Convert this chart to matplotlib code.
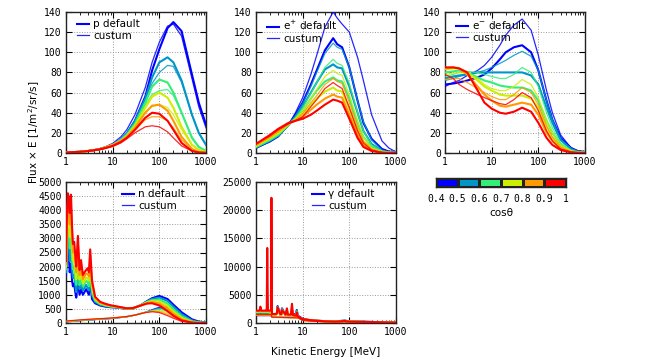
import matplotlib
matplotlib.use('Agg')
import matplotlib.pyplot as plt
from matplotlib.colors import ListedColormap
import numpy as np

# colours of the cos(theta) bins 0.4-0.5 ... 0.9-1
colors = ['#0000ff', '#0096c8', '#33ee77', '#ccee00', '#ff9900', '#ff0000']
cos_edges = [0.4, 0.5, 0.6, 0.7, 0.8, 0.9, 1.0]
cos_labels = ['0.4', '0.5', '0.6', '0.7', '0.8', '0.9', '1']

# ---- protons ----
p_E = [1, 2, 3, 5, 7, 10, 15, 20, 30, 50, 70, 100, 150, 200, 300, 500, 700, 1000]
p_default = [
    [0.5, 1.2, 2.0, 3.5, 5.5, 8, 13, 19, 32, 56, 82, 103, 124, 130, 121, 78, 50, 28],
    [0.5, 1.2, 2.0, 3.5, 5.5, 8, 13, 19, 31, 54, 75, 90, 95, 90, 72, 38, 20, 8],
    [0.5, 1.2, 2.0, 3.5, 5.5, 8, 13, 18, 29, 50, 66, 73, 70, 60, 40, 15, 6, 2],
    [0.5, 1.2, 2.0, 3.5, 5.5, 8, 12, 17, 27, 45, 56, 60, 55, 45, 26, 8, 3, 1],
    [0.5, 1.2, 2.0, 3.5, 5.5, 8, 12, 16, 25, 40, 47, 48, 42, 32, 16, 4, 1, 0.5],
    [0.5, 1.2, 2.0, 3.5, 5.0, 7, 11, 15, 23, 35, 40, 39, 32, 23, 10, 2, 0.5, 0.2],
]
p_custom = [
    [0.6, 1.4, 2.3, 4.0, 6.2, 9.5, 16, 23, 38, 65, 90, 110, 126, 128, 116, 74, 46, 25],
    [0.5, 1.3, 2.1, 3.7, 5.7, 8.5, 14, 20, 32, 54, 69, 80, 87, 86, 70, 38, 20, 8],
    [0.5, 1.2, 2.0, 3.5, 5.5, 8, 13, 18, 29, 48, 58, 62, 63, 57, 40, 16, 6, 2],
    [0.5, 1.2, 2.0, 3.5, 5.2, 7.5, 12, 17, 26, 41, 46, 48, 45, 38, 23, 8, 3, 1],
    [0.5, 1.1, 1.9, 3.3, 5.0, 7, 11, 15, 23, 33, 36, 36, 32, 25, 13, 4, 1, 0.5],
    [0.4, 1.0, 1.7, 3.0, 4.5, 6.5, 10, 14, 20, 26, 27, 26, 21, 15, 7, 2, 0.5, 0.2],
]

# ---- positrons ----
ep_E = [1, 2, 3, 5, 7, 10, 15, 20, 30, 45, 55, 70, 100, 150, 200, 300, 500, 700, 1000]
ep_default = [
    [5, 12, 17, 28, 38, 50, 68, 82, 102, 114, 108, 105, 85, 52, 30, 14, 4, 1.5, 0.5],
    [5.5, 12.5, 17.5, 28, 36, 46, 60, 70, 83, 88, 85, 84, 66, 40, 22, 9, 2, 0.8, 0.3],
    [6, 13, 18, 28, 34, 42, 54, 62, 71, 75, 72, 71, 54, 30, 16, 6, 1.5, 0.5, 0.2],
    [7, 15, 20, 29, 33, 39, 48, 54, 61, 65, 62, 61, 44, 23, 11, 4, 1, 0.3, 0.1],
    [8, 16, 22, 29, 32, 36, 43, 48, 54, 58, 56, 55, 38, 18, 8, 2.5, 0.5, 0.2, 0.1],
    [9, 18, 24, 30, 32, 34, 38, 42, 48, 53, 52, 50, 34, 15, 6, 2, 0.3, 0.1, 0.1],
]
ep_custom = [
    [5, 11, 16, 28, 40, 55, 78, 97, 125, 140, 134, 128, 120, 95, 72, 38, 12, 5, 1],
    [5.5, 12, 17, 28, 37, 49, 66, 80, 99, 109, 105, 103, 85, 52, 31, 13, 3, 1, 0.4],
    [6, 13, 18, 28, 35, 45, 59, 70, 85, 93, 89, 87, 69, 40, 22, 8, 2, 0.6, 0.2],
    [7, 14, 19, 28, 34, 42, 54, 63, 76, 82, 79, 77, 58, 32, 16, 5, 1.2, 0.4, 0.1],
    [8, 16, 21, 29, 33, 39, 50, 57, 68, 74, 71, 69, 50, 26, 12, 4, 0.8, 0.2, 0.1],
    [9, 17, 23, 29, 32, 36, 46, 53, 64, 70, 67, 64, 45, 22, 10, 3, 0.5, 0.1, 0.1],
]

# ---- electrons ----
em_E = [1, 1.5, 2, 3, 5, 7, 10, 15, 20, 30, 45, 70, 100, 150, 200, 300, 500, 700, 1000]
em_default = [
    [68, 69, 70, 72, 75, 78, 84, 93, 100, 105, 107, 100, 82, 52, 33, 15, 5, 2, 1],
    [74, 76, 77, 78, 80, 80, 80, 80, 80, 80, 80, 77, 68, 45, 30, 13, 4, 1.5, 0.8],
    [80, 81, 82, 80, 75, 72, 70, 67, 66, 65, 65, 62, 52, 32, 20, 8, 2, 0.8, 0.4],
    [83, 84, 84, 80, 72, 66, 62, 58, 57, 57, 57, 54, 45, 26, 15, 6, 1.5, 0.5, 0.2],
    [84, 85, 84, 78, 66, 58, 52, 47, 46, 48, 50, 48, 38, 20, 12, 4, 1, 0.3, 0.1],
    [85, 85, 84, 80, 62, 50, 44, 40, 39, 41, 45, 41, 30, 15, 8, 3, 0.5, 0.2, 0.1],
]
em_custom = [
    [66, 70, 72, 77, 82, 87, 95, 107, 117, 127, 133, 122, 97, 62, 40, 18, 5, 2, 1],
    [72, 74, 76, 78, 80, 82, 85, 89, 92, 97, 101, 96, 82, 52, 33, 14, 4, 1.5, 0.8],
    [76, 78, 80, 81, 80, 78, 76, 74, 74, 78, 85, 80, 66, 40, 25, 10, 3, 1, 0.5],
    [78, 79, 80, 79, 74, 68, 64, 62, 62, 66, 73, 68, 55, 32, 20, 8, 2, 0.7, 0.3],
    [73, 74, 74, 70, 64, 60, 56, 53, 53, 58, 65, 60, 48, 27, 16, 6, 1.5, 0.5, 0.2],
    [78, 74, 68, 63, 58, 55, 52, 49, 48, 53, 60, 55, 42, 22, 12, 4, 1, 0.3, 0.1],
]

# ---- neutrons ----
n_E = [1.0, 1.05, 1.1, 1.15, 1.2, 1.28, 1.35, 1.41, 1.5, 1.58, 1.66, 1.8, 1.95, 2.1, 2.3,
       2.5, 2.7, 2.9, 3.1, 3.3, 3.6, 4.2, 5.4, 7, 9, 14, 20, 27, 40, 55, 70, 100, 150, 200,
       300, 500, 700, 1000]
n_default = [
    [1700, 2500, 2800, 2400, 1800, 2100, 1500, 1300, 1400, 1100, 900, 1500, 1000, 1200, 1000,
     1100, 1200, 1100, 1000, 1600, 850, 700, 620, 580, 560, 540, 500, 510, 630, 780, 880, 960,
     850, 650, 380, 130, 50, 15],
    [1800, 2800, 3150, 2800, 2200, 2600, 1900, 1600, 1700, 1350, 1100, 1800, 1200, 1400, 1150,
     1250, 1350, 1250, 1150, 1800, 1000, 750, 650, 600, 570, 545, 505, 515, 630, 770, 850, 900,
     780, 580, 310, 90, 30, 8],
    [1900, 3050, 3500, 3200, 2650, 3100, 2250, 1900, 2000, 1600, 1350, 2150, 1350, 1600, 1300,
     1400, 1500, 1450, 1300, 2000, 1100, 800, 670, 620, 590, 550, 510, 518, 630, 750, 810, 830,
     690, 490, 240, 60, 18, 4],
    [2000, 3350, 3900, 3600, 3050, 3550, 2650, 2200, 2300, 1900, 1550, 2450, 1550, 1800, 1400,
     1500, 1600, 1600, 1500, 2200, 1250, 850, 700, 640, 600, 560, 512, 522, 625, 730, 780, 760,
     600, 410, 180, 40, 10, 2],
    [2100, 3600, 4250, 4000, 3500, 4050, 3000, 2500, 2600, 2150, 1800, 2750, 1700, 2000, 1550,
     1650, 1750, 1750, 1650, 2400, 1400, 900, 720, 660, 615, 565, 515, 526, 622, 710, 740, 690,
     510, 330, 130, 25, 6, 1.5],
    [2200, 3900, 4600, 4400, 3900, 4550, 3400, 2800, 2880, 2400, 2000, 3090, 1880, 2230, 1700,
     1800, 1880, 1940, 1800, 2610, 1520, 930, 750, 680, 630, 570, 520, 530, 620, 690, 700, 620,
     420, 260, 90, 15, 3, 1],
]
n_Ec = [1, 2, 3, 5, 10, 20, 30, 50, 70, 100, 150, 200, 300, 500, 700, 1000]
n_custom = [
    [40, 80, 100, 130, 160, 220, 280, 380, 470, 560, 570, 480, 300, 110, 40, 10],
    [45, 85, 105, 135, 165, 222, 280, 378, 455, 520, 500, 400, 230, 75, 25, 6],
    [50, 90, 110, 138, 170, 225, 280, 375, 440, 480, 430, 320, 170, 50, 14, 3],
    [55, 95, 117, 142, 173, 227, 280, 373, 425, 440, 370, 260, 120, 30, 8, 2],
    [62, 102, 123, 146, 177, 228, 280, 372, 410, 405, 310, 210, 85, 18, 4, 1],
    [70, 110, 130, 150, 180, 230, 280, 370, 400, 370, 260, 170, 60, 10, 2, 0.5],
]

# ---- gammas ----
g_E = [1, 1.2, 1.24, 1.3, 1.6, 1.7, 1.74, 1.8, 2.05, 2.1, 2.14, 2.2, 2.6, 2.8, 2.9, 3.3,
       3.5, 3.6, 4.3, 4.6, 4.8, 5.6, 5.9, 6.2, 7.2, 7.5, 7.8, 9, 10, 15, 20, 30, 50, 80,
       100, 200, 500, 1000]
g_default = [
    [1700, 1700, 2300, 1700, 1700, 1700, 2400, 1700, 1600, 1600, 2400, 1500, 1500, 1600, 3000,
     1500, 1500, 2600, 1400, 2000, 1400, 1400, 2000, 1600, 1500, 2300, 1300, 1000, 700, 470,
     400, 330, 290, 420, 300, 220, 140, 90],
    [1800, 1800, 2400, 1800, 1800, 1800, 2500, 1800, 1700, 1700, 2500, 1500, 1500, 1600, 2900,
     1500, 1500, 2500, 1400, 2000, 1400, 1400, 2100, 1500, 1400, 2200, 1200, 900, 680, 460,
     390, 320, 280, 400, 280, 210, 130, 80],
    [1900, 1900, 2500, 1900, 1900, 1900, 2600, 1900, 1800, 1800, 2600, 1500, 1500, 1600, 2800,
     1500, 1500, 2400, 1400, 2100, 1400, 1400, 2200, 1400, 1300, 2000, 1100, 850, 650, 460,
     380, 310, 270, 380, 270, 200, 120, 75],
    [2000, 2000, 2600, 2000, 2000, 2000, 2900, 2000, 1900, 1900, 2900, 1500, 1500, 1600, 2700,
     1500, 1500, 2300, 1400, 2200, 1400, 1400, 2400, 1300, 1200, 1900, 1100, 850, 650, 470,
     380, 300, 260, 360, 260, 190, 120, 75],
    [2100, 2100, 2700, 2100, 2100, 2100, 3500, 2100, 2000, 2000, 3600, 1500, 1500, 1600, 2600,
     1500, 1500, 2200, 1400, 2400, 1400, 1400, 2800, 1300, 1200, 1800, 1100, 850, 650, 480,
     390, 300, 250, 340, 250, 190, 120, 75],
    [2200, 2200, 2900, 2200, 2200, 2200, 13300, 2200, 2200, 2200, 22200, 1600, 1600, 1700, 2800,
     1600, 1600, 2300, 1500, 2600, 1500, 1500, 3400, 1400, 1300, 1900, 1200, 900, 700, 500,
     400, 300, 250, 350, 250, 200, 130, 80],
]
g_Ec = [1, 2.1, 2.2, 8, 10, 20, 50, 80, 100, 200, 500, 1000]
g_custom = [
    [1300, 1300, 1000, 1000, 550, 330, 220, 280, 220, 150, 100, 70],
    [1350, 1350, 1000, 1000, 520, 310, 210, 270, 210, 140, 95, 65],
    [1400, 1400, 1000, 950, 500, 300, 200, 260, 200, 130, 90, 60],
    [1450, 1450, 1050, 950, 480, 290, 190, 250, 190, 125, 85, 55],
    [1400, 1400, 1000, 900, 460, 280, 180, 240, 180, 120, 80, 50],
    [1500, 1500, 1050, 900, 450, 270, 170, 230, 170, 110, 75, 45],
]

MONO = 'DejaVu Sans Mono'
W, H = 650, 361


def frame(l, t, r, b):
    """pixel box -> figure fraction rectangle"""
    return [l / W, 1 - b / H, (r - l) / W, (b - t) / H]


def panel(fig, box, E_def, default, E_cus, custom, name, ymax, ystep, leg_x):
    ax = fig.add_axes(frame(*box))
    for i in range(6):
        ax.plot(E_def, default[i], color=colors[i], lw=1.5,
                label=name + ' default' if i == 0 else None, zorder=3)
        ax.plot(E_cus, custom[i], color=colors[i], lw=0.9, alpha=0.85,
                label='custum' if i == 0 else None, zorder=3)
    ax.set_xscale('log')
    ax.set_xlim(1, 1000)
    ax.set_ylim(0, ymax)
    ax.set_xticks([1, 10, 100, 1000])
    ax.set_xticklabels(['1', '10', '100', '1000'], fontfamily=MONO, fontsize=7)
    yt = np.arange(0, ymax + 1, ystep)
    ax.set_yticks(yt)
    ax.set_yticklabels([str(int(v)) for v in yt], fontfamily=MONO, fontsize=7)
    ax.tick_params(which='both', direction='in', top=True, right=True, pad=3)
    ax.tick_params(which='major', length=4, width=0.8)
    ax.tick_params(which='minor', length=2, width=0.6)
    ax.grid(True, which='major', linestyle=':', color='#9a9a9a', lw=0.7)
    for s in ax.spines.values():
        s.set_linewidth(1.0)
        s.set_color('#222222')
    ax.legend(loc='upper left', bbox_to_anchor=(leg_x, 1.0), frameon=False,
              fontsize=7.5, handlelength=1.1, handletextpad=0.4,
              labelspacing=0.15, borderaxespad=0.3)
    return ax


fig = plt.figure(figsize=(6.5, 3.61), dpi=100)

panel(fig, (66, 12, 206, 153), p_E, p_default, p_E, p_custom, 'p', 140, 20, 0.03)
panel(fig, (256, 12, 396, 153), ep_E, ep_default, ep_E, ep_custom, 'e$^{+}$', 140, 20, 0.03)
panel(fig, (445, 12, 585, 153), em_E, em_default, em_E, em_custom, 'e$^{-}$', 140, 20, 0.03)
panel(fig, (66, 182, 206, 323), n_E, n_default, n_Ec, n_custom, 'n', 5000, 500, 0.35)
panel(fig, (256, 182, 396, 323), g_E, g_default, g_Ec, g_custom, 'γ', 25000, 5000, 0.35)

# colour key for cos(theta)
cax = fig.add_axes(frame(436, 178, 566, 187))
cax.pcolormesh(cos_edges, [0, 1], [[0, 1, 2, 3, 4, 5]],
               cmap=ListedColormap(colors), vmin=-0.5, vmax=5.5,
               edgecolors='#222222', linewidth=0.8)
cax.set_xlim(0.4, 1.0)
cax.set_ylim(0, 1)
cax.set_yticks([])
cax.set_xticks(cos_edges)
cax.set_xticklabels(cos_labels, fontfamily=MONO, fontsize=7)
cax.tick_params(length=0, pad=5)
for s in cax.spines.values():
    s.set_linewidth(1.0)
    s.set_color('#222222')
cax.set_xlabel('cosθ', fontsize=7.5, labelpad=3)

fig.text(326 / W, 1 - 352 / H, 'Kinetic Energy [MeV]', ha='center', va='center', fontsize=7.5)
fig.text(34 / W, 1 - 132 / H, 'Flux × E [1/m$^{2}$/sr/s]', ha='center', va='center',
         rotation=90, fontsize=7.5)

fig.savefig('out.png', dpi=100)
